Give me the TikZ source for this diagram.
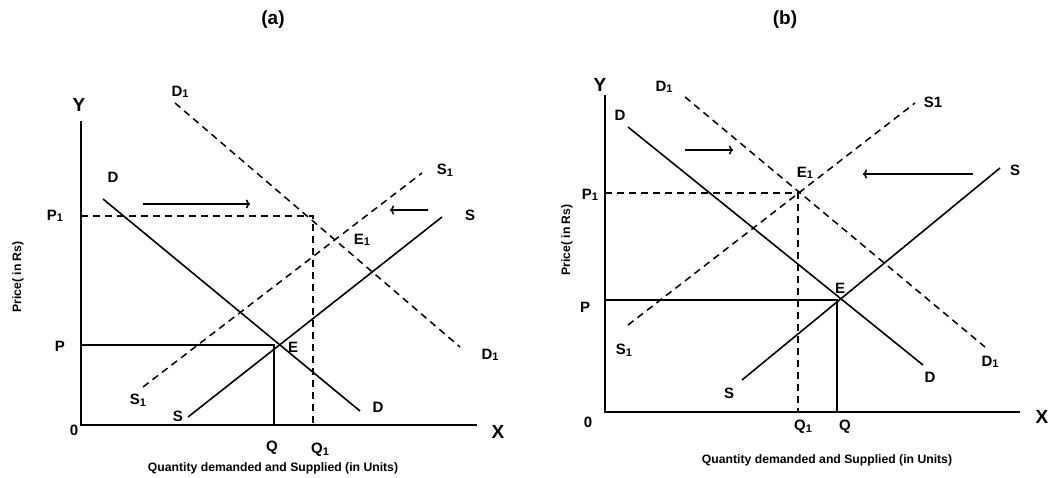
\documentclass[tikz,border=0pt]{standalone}
\usepackage{fontspec}
\setmainfont{Liberation Sans}
\usetikzlibrary{shapes,arrows,arrows.meta,positioning,calc}
\newcommand{\lowone}{\raisebox{-0.2ex}{\fontsize{11}{13}\selectfont 1}}

\begin{document}
\begin{tikzpicture}[x=1pt, y=-1pt,
        axis/.style={line width=2.2pt},
        curve/.style={line width=1.6pt},
        shifted/.style={line width=1.5pt, dash pattern=on 7pt off 5pt},
        guide/.style={line width=1.5pt, dash pattern=on 7pt off 5pt},
        push/.style={line width=1.6pt, -{To[length=4pt,width=9pt]}},
        lbl/.style={font=\bfseries\fontsize{15}{17}\selectfont, inner sep=0pt},
        big/.style={font=\bfseries\fontsize{19}{21}\selectfont, inner sep=0pt},
        ttl/.style={font=\bfseries\fontsize{12.2}{14}\selectfont, inner sep=0pt}]

    \useasboundingbox (0,0) rectangle (1049,477);

    % ---- panel (a): demand and supply both rise
    \node[big] (atitle) at (273,20) {(a)};

    \coordinate (aO) at (81,425);
    \coordinate (aY) at (81,121);
    \coordinate (aX) at (477,425);
    \draw[axis] (aY) -- (aO) -- (aX);

    \coordinate (aDa) at (103,199);
    \coordinate (aDb) at (360,411);
    \coordinate (aSa) at (188,417);
    \coordinate (aSb) at (442,217);
    \coordinate (aDDa) at (175,103);
    \coordinate (aDDb) at (460,347);
    \coordinate (aSSa) at (143,387);
    \coordinate (aSSb) at (422,173);
    \draw[curve] (aDa) -- (aDb);
    \draw[curve] (aSa) -- (aSb);
    \draw[shifted] (aDDa) -- (aDDb);
    \draw[shifted] (aSSa) -- (aSSb);

    \coordinate (aPP) at (81,216);
    \coordinate (aEE) at (313,216);
    \coordinate (aQQ) at (313,425);
    \coordinate (aP) at (81,345);
    \coordinate (aE) at (274,345);
    \coordinate (aQ) at (274,425);
    \draw[guide] (aPP) -- (aEE) -- (aQQ);
    \draw[axis] (aP) -- (aE) -- (aQ);

    \coordinate (aRa) at (143,204);
    \coordinate (aRb) at (250,204);
    \coordinate (aLa) at (428,210);
    \coordinate (aLb) at (390,210);
    \draw[push] (aRa) -- (aRb);
    \draw[push] (aLa) -- (aLb);

    \node[big] (aYlbl) at (79,105) {Y};
    \node[big] (aXlbl) at (498,432) {X};
    \node[lbl] (aOlbl) at (74,430) {0};
    \node[lbl] (aDtop) at (113,177) {D};
    \node[lbl] (aDbot) at (378,407) {D};
    \node[lbl] (aStop) at (470,215) {S};
    \node[lbl] (aSbot) at (178,416) {S};
    \node[lbl] (aDDtop) at (180,92) {D\lowone};
    \node[lbl] (aDDbot) at (490,355) {D\lowone};
    \node[lbl] (aSStop) at (445,170) {S\lowone};
    \node[lbl] (aSSbot) at (138,400) {S\lowone};
    \node[lbl] (aPPlbl) at (55,216) {P\lowone};
    \node[lbl] (aPlbl) at (60,346) {P};
    \node[lbl] (aElbl) at (293,347) {E};
    \node[lbl] (aEElbl) at (362,240) {E\lowone};
    \node[lbl] (aQlbl) at (272,448) {Q};
    \node[lbl] (aQQlbl) at (320,450) {Q\lowone};
    \node[ttl, rotate=90] (aprice) at (18,277) {Price( in Rs)};
    \node[ttl] (aqty) at (273,468) {Quantity demanded and Supplied (in Units)};

    % ---- panel (b): supply rises more than demand
    \node[big] (btitle) at (785,20) {(b)};

    \coordinate (bO) at (605,412);
    \coordinate (bY) at (605,95);
    \coordinate (bX) at (1020,412);
    \draw[axis] (bY) -- (bO) -- (bX);

    \coordinate (bDa) at (628,127);
    \coordinate (bDb) at (923,365);
    \coordinate (bSa) at (742,380);
    \coordinate (bSb) at (1000,168);
    \coordinate (bDDa) at (685,97);
    \coordinate (bDDb) at (985,347);
    \coordinate (bSSa) at (628,325);
    \coordinate (bSSb) at (915,103);
    \draw[curve] (bDa) -- (bDb);
    \draw[curve] (bSa) -- (bSb);
    \draw[shifted] (bDDa) -- (bDDb);
    \draw[shifted] (bSSa) -- (bSSb);

    \coordinate (bPP) at (605,193);
    \coordinate (bEE) at (798,193);
    \coordinate (bQQ) at (798,412);
    \coordinate (bP) at (605,300);
    \coordinate (bE) at (837,300);
    \coordinate (bQ) at (837,412);
    \draw[guide] (bPP) -- (bEE) -- (bQQ);
    \draw[axis] (bP) -- (bE) -- (bQ);

    \coordinate (bRa) at (685,150);
    \coordinate (bRb) at (733,150);
    \coordinate (bLa) at (973,174);
    \coordinate (bLb) at (863,174);
    \draw[push] (bRa) -- (bRb);
    \draw[push] (bLa) -- (bLb);

    \node[big] (bYlbl) at (600,85) {Y};
    \node[big] (bXlbl) at (1042,417) {X};
    \node[lbl] (bOlbl) at (588,422) {0};
    \node[lbl] (bDtop) at (620,115) {D};
    \node[lbl] (bDbot) at (930,377) {D};
    \node[lbl] (bStop) at (1015,170) {S};
    \node[lbl] (bSbot) at (729,393) {S};
    \node[lbl] (bDDtop) at (664,87) {D\lowone};
    \node[lbl] (bDDbot) at (990,362) {D\lowone};
    \node[lbl] (bSStop) at (933,102) {S1};
    \node[lbl] (bSSbot) at (624,350) {S\lowone};
    \node[lbl] (bPPlbl) at (590,195) {P\lowone};
    \node[lbl] (bPlbl) at (585,307) {P};
    \node[lbl] (bElbl) at (840,288) {E};
    \node[lbl] (bEElbl) at (805,173) {E\lowone};
    \node[lbl] (bQlbl) at (845,427) {Q};
    \node[lbl] (bQQlbl) at (803,427) {Q\lowone};
    \node[ttl, rotate=90] (bprice) at (567,240) {Price( in Rs)};
    \node[ttl] (bqty) at (827,460) {Quantity demanded and Supplied (in Units)};

\end{tikzpicture}
\end{document}
